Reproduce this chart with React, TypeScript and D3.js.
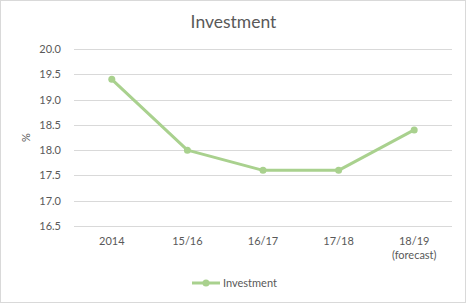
import React from "react";
import * as d3 from "d3";

const categories = ["2014", "15/16", "16/17", "17/18", "18/19\n(forecast)"];
const values = [19.4, 18.0, 17.6, 17.6, 18.4];
const yTicks = [16.5, 17.0, 17.5, 18.0, 18.5, 19.0, 19.5, 20.0];
const seriesName = "Investment";
const title = "Investment";

const W = 466, H = 303;
const M = { left: 74, right: 14, top: 49, bottom: 77 };
const color = "#a9d18e";
const textColor = "#595959";
const font = "Lato, 'Open Sans', sans-serif";

export default function App() {
  const x = d3.scaleBand().domain(categories).range([M.left, W - M.right]);
  const y = d3.scaleLinear().domain([16.5, 20]).range([H - M.bottom, M.top]);
  const line = d3.line<number>().x((_, i) => x(categories[i])! + x.bandwidth() / 2).y(d => y(d));
  return (
    <div style={{ position: "fixed", left: 0, top: 0 }}>
      <svg width={W} height={H} style={{ display: "block", fontFamily: font }}>
        <rect x={0.5} y={0.5} width={W - 1} height={H - 1} fill="#fff" stroke="#d9d9d9" />
        <text x={W / 2 + 0.5} y={28} textAnchor="middle" fontSize={17.5} fill={textColor}>{title}</text>
        {yTicks.map(t => (
          <g key={t}>
            <line x1={M.left} x2={W - M.right} y1={Math.round(y(t)) + 0.5} y2={Math.round(y(t)) + 0.5} stroke="#d9d9d9" />
            <text x={61} y={y(t) + 4} textAnchor="end" fontSize={11} fill={textColor}>{t.toFixed(1)}</text>
          </g>
        ))}
        <text transform={`translate(30,${(M.top + H - M.bottom) / 2}) rotate(-90)`} textAnchor="middle" fontSize={11} fill={textColor}>%</text>
        {categories.map(c => {
          const lines = c.split("\n");
          return (
            <text key={c} x={x(c)! + x.bandwidth() / 2} y={245} textAnchor="middle" fontSize={11} fill={textColor}>
              {lines.map((l, i) => <tspan key={i} x={x(c)! + x.bandwidth() / 2} dy={i === 0 ? 0 : 14}>{l}</tspan>)}
            </text>
          );
        })}
        <path d={line(values)!} fill="none" stroke={color} strokeWidth={3} strokeLinejoin="round" />
        {values.map((v, i) => (
          <circle key={i} cx={x(categories[i])! + x.bandwidth() / 2} cy={y(v)} r={3.5} fill={color} />
        ))}
        <line x1={192} x2={220} y1={283} y2={283} stroke={color} strokeWidth={3} />
        <circle cx={206} cy={283} r={3.5} fill={color} />
        <text x={223} y={287} fontSize={11} fill={textColor}>{seriesName}</text>
      </svg>
    </div>
  );
}
